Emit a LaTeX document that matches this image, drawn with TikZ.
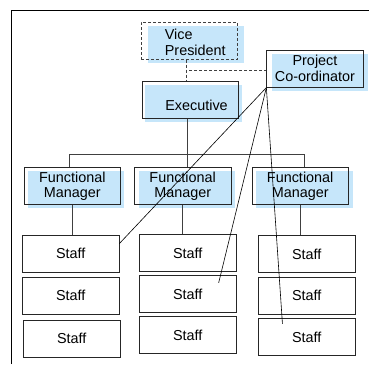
\documentclass[tikz,border=0pt]{standalone}
\usepackage{fontspec}
\setmainfont{Liberation Sans}
\usetikzlibrary{shadows}
\definecolor{lblue}{RGB}{198,230,250}
\begin{document}
\begin{tikzpicture}[x=1pt,y=-1pt,
  box/.style={draw=black!85, line width=0.8pt, minimum width=96.5pt, minimum height=37pt, inner sep=0pt, align=center, font=\fontsize{14.4}{15.5}\selectfont},
  bl/.style={drop shadow={shadow xshift=#1, shadow yshift=-3.5pt, fill=lblue, opacity=1}},
  lbl/.style={font=\fontsize{14.4}{16.5}\selectfont, inner sep=0pt},
  conn/.style={draw=black!75, line width=0.7pt},
  dsh/.style={draw=black!75, line width=0.7pt, dash pattern=on 3pt off 2pt},
  pline/.style={draw=black, line width=0.6pt}
]
\useasboundingbox (0,0) rectangle (369,364);
\fill[white] (0,0) rectangle (369,364);
\draw[line width=0.9pt] (11,364) -- (11,10) -- (369,10);

% top level
\node[box, dsh, bl=6.5pt, label={[lbl, align=left, xshift=6pt, yshift=-1.7pt]center:{Vice\\President}}] (vp) at (189.3,40.8) {};
\node[box, bl=3pt, label={[lbl, xshift=6pt, yshift=-5pt]center:Executive}] (exec) at (190.5,100.2) {};
\node[box, bl=5pt, font=\fontsize{14.4}{16}\selectfont] (proj) at (315,68.7) {Project\\Co-ordinator};

% functional managers
\node[box, bl=3.5pt] (fm1) at (72.3,186.3) {Functional\\Manager};
\node[box, bl=4.5pt] (fm2) at (182.7,186.3) {Functional\\Manager};
\node[box, bl=4.3pt] (fm3) at (300.2,186.3) {Functional\\Manager};

% staff
\node[box] (s11) at (70.7,253.5) {Staff};
\node[box] (s12) at (70.7,295.8) {Staff};
\node[box] (s13) at (71.7,338.7) {Staff};
\node[box] (s21) at (187.7,253.3) {Staff};
\node[box] (s22) at (187.7,294.2) {Staff};
\node[box] (s23) at (187.7,335.3) {Staff};
\node[box] (s31) at (306.7,254) {Staff};
\node[box] (s32) at (306.7,295.8) {Staff};
\node[box] (s33) at (306.7,337.2) {Staff};

% connectors
\draw[dsh] ([xshift=-3pt]vp.south) -- ([xshift=-3pt]vp.south |- exec.north);
\coordinate (dj) at (189,70);
\draw[dsh] (dj) -- (dj -| proj.west);
\draw[conn] ([xshift=-3.2pt]exec.south) -- ([xshift=-3.2pt]exec.south |- fm2.north);
\coordinate (busL) at (69.3,154);
\coordinate (busR) at (304,154);
\draw[conn] (busL |- fm1.north) -- (busL) -- (busR) -- (busR |- fm3.north);
\draw[conn] (fm1.south) -- (fm1.south |- s11.north);
\draw[conn] (fm2.south) -- (fm2.south |- s21.north);
\draw[conn] (fm3.south) -- (fm3.south |- s31.north);

\draw[pline] (proj.south west) -- ([yshift=-9pt]s11.north east);
\draw[pline] (proj.south west) -- ([shift={(-17.7pt,-7.6pt)}]s22.north east);
\draw[pline] (proj.south west) -- ([shift={(24.4pt,-5.6pt)}]s33.north west);
\end{tikzpicture}
\end{document}
